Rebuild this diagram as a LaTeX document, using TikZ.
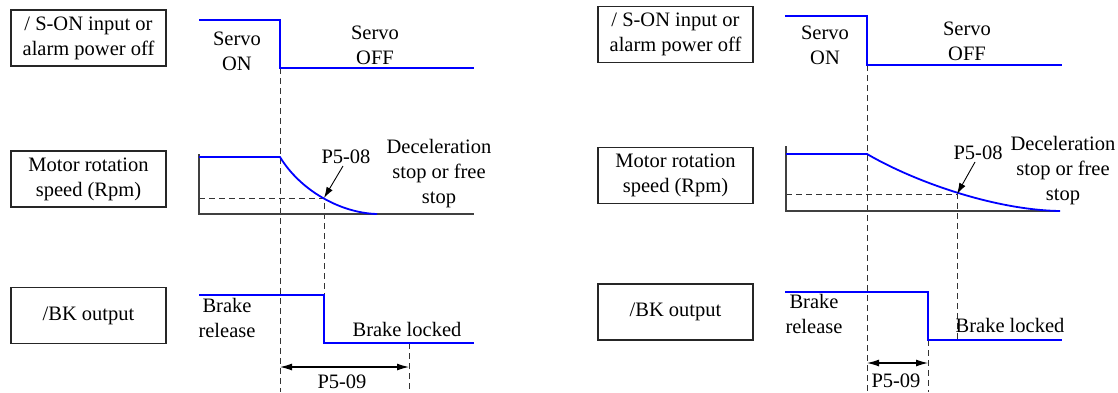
\documentclass[tikz,border=0pt]{standalone}
\usepackage{fontspec}
\setmainfont{Liberation Serif}
\newfontfamily\tnrfont{Liberation Serif}
\usetikzlibrary{arrows.meta}
\begin{document}
\begin{tikzpicture}[x=1pt,y=-1pt,
  every node/.style={inner sep=0pt,outer sep=0pt,font=\tnrfont\fontsize{20.5}{25}\selectfont,text=black},
  sigbox/.style={draw=black!85,line width=1.2pt,minimum width=155pt,minimum height=56pt,align=center},
  txt/.style={align=center},
  sig/.style={draw=blue,line width=1.8pt},
  axis/.style={draw=black!75,line width=1.2pt},
  dsh/.style={draw=black!80,line width=0.9pt,dash pattern=on 6pt off 4pt},
  ptr/.style={draw=black,line width=0.9pt,-{Latex[length=11pt,width=7pt]}},
  dim/.style={draw=black,line width=1.1pt,{Latex[length=12pt,width=7pt]}-{Latex[length=12pt,width=7pt]}}]
\useasboundingbox (0,0) rectangle (1118,392);
\fill[white] (0,0) rectangle (1118,392);

% ---------------- left panel ----------------
\node[sigbox] (lb1) at (88.5,38) {/ S-ON input or\\alarm power off};
\node[sigbox] (lb2) at (88.5,179) {Motor rotation\\speed (Rpm)};
\node[sigbox] (lb3) at (88.5,315.5) {/BK output};

\coordinate (ls1a) at (199,20); \coordinate (ls1b) at (280,20);
\coordinate (ls1c) at (280,68); \coordinate (ls1d) at (474,68);
\coordinate (lvt) at (199,154); \coordinate (lo) at (199,214); \coordinate (lbe) at (474,214);
\coordinate (lsa) at (199,157); \coordinate (lsb) at (280,157); \coordinate (lse) at (377,214);
\coordinate (lp8) at (324,198); \coordinate (lh8) at (199,198);
\coordinate (lk1) at (199,295); \coordinate (lk2) at (324,295);
\coordinate (lk3) at (324,343); \coordinate (lk4) at (474,343);
\coordinate (lk5) at (409,343);
\coordinate (lbot1) at (280,392); \coordinate (lbot2) at (409,392);
\coordinate (la1) at (280,367); \coordinate (la2) at (409,367);
\coordinate (lt8) at (343,166);

\draw[dsh] (ls1c) -- (lbot1);
\draw[dsh] (lh8) -- (lp8) -- (lk2);
\draw[dsh] (lk5) -- (lbot2);
\draw[axis] (lvt) -- (lo) -- (lbe);
\draw[sig] (ls1a) -- (ls1b) -- (ls1c) -- (ls1d);
\draw[sig] (lsa) -- (lsb) .. controls (300,190) and (340,213) .. (lse);
\draw[sig] (lk1) -- (lk2) -- (lk3) -- (lk4);
\draw[ptr] (lt8) -- (lp8);
\draw[dim] (la1) -- (la2);

\node[txt] (lson) at (237,51.5) {Servo\\ON};
\node[txt] (lsoff) at (375,45.5) {Servo\\OFF};
\node (lp58) at (346,157) {P5-08};
\node[txt] (ldec) at (439,174) {Deceleration\\stop or free\\stop};
\node[txt] (lrel) at (227,317.5) {Brake\\release};
\node (llock) at (407,329) {Brake locked};
\node (lp59) at (342,381.5) {P5-09};

% ---------------- right panel ----------------
\node[sigbox] (rb1) at (675.5,34.5) {/ S-ON input or\\alarm power off};
\node[sigbox] (rb2) at (675.5,175.5) {Motor rotation\\speed (Rpm)};
\node[sigbox] (rb3) at (675.5,312) {/BK output};

\coordinate (rs1a) at (785,16); \coordinate (rs1b) at (867,16);
\coordinate (rs1c) at (867,65); \coordinate (rs1d) at (1062,65);
\coordinate (rvt) at (786,146); \coordinate (ro) at (786,211); \coordinate (rbe) at (1060,211);
\coordinate (rsa) at (786,154); \coordinate (rsb) at (867,154); \coordinate (rse) at (1060,211);
\coordinate (rp8) at (957,194); \coordinate (rh8) at (786,194);
\coordinate (rk1) at (785,292); \coordinate (rk2) at (928,292);
\coordinate (rk3) at (928,340); \coordinate (rk4) at (1062,340);
\coordinate (rk5) at (957,340);
\coordinate (rbot1) at (867,392); \coordinate (rbot2) at (928,392);
\coordinate (ra1) at (867,363); \coordinate (ra2) at (928,363);
\coordinate (rt8) at (975,162);

\draw[dsh] (rs1c) -- (rbot1);
\draw[dsh] (rh8) -- (rp8) -- (rk5);
\draw[dsh] (rk3) -- (rbot2);
\draw[axis] (rvt) -- (ro) -- (rbe);
\draw[sig] (rs1a) -- (rs1b) -- (rs1c) -- (rs1d);
\draw[sig] (rsa) -- (rsb) .. controls (915,182) and (995,210) .. (rse);
\draw[sig] (rk1) -- (rk2) -- (rk3) -- (rk4);
\draw[ptr] (rt8) -- (rp8);
\draw[dim] (ra1) -- (ra2);

\node[txt] (rson) at (825,45) {Servo\\ON};
\node[txt] (rsoff) at (967,41) {Servo\\OFF};
\node (rp58) at (978,153) {P5-08};
\node[txt] (rdec) at (1063,170.5) {Deceleration\\stop or free\\stop};
\node[txt] (rrel) at (814,314) {Brake\\release};
\node (rlock) at (1010,325) {Brake locked};
\node (rp59) at (896,381) {P5-09};
\end{tikzpicture}
\end{document}
